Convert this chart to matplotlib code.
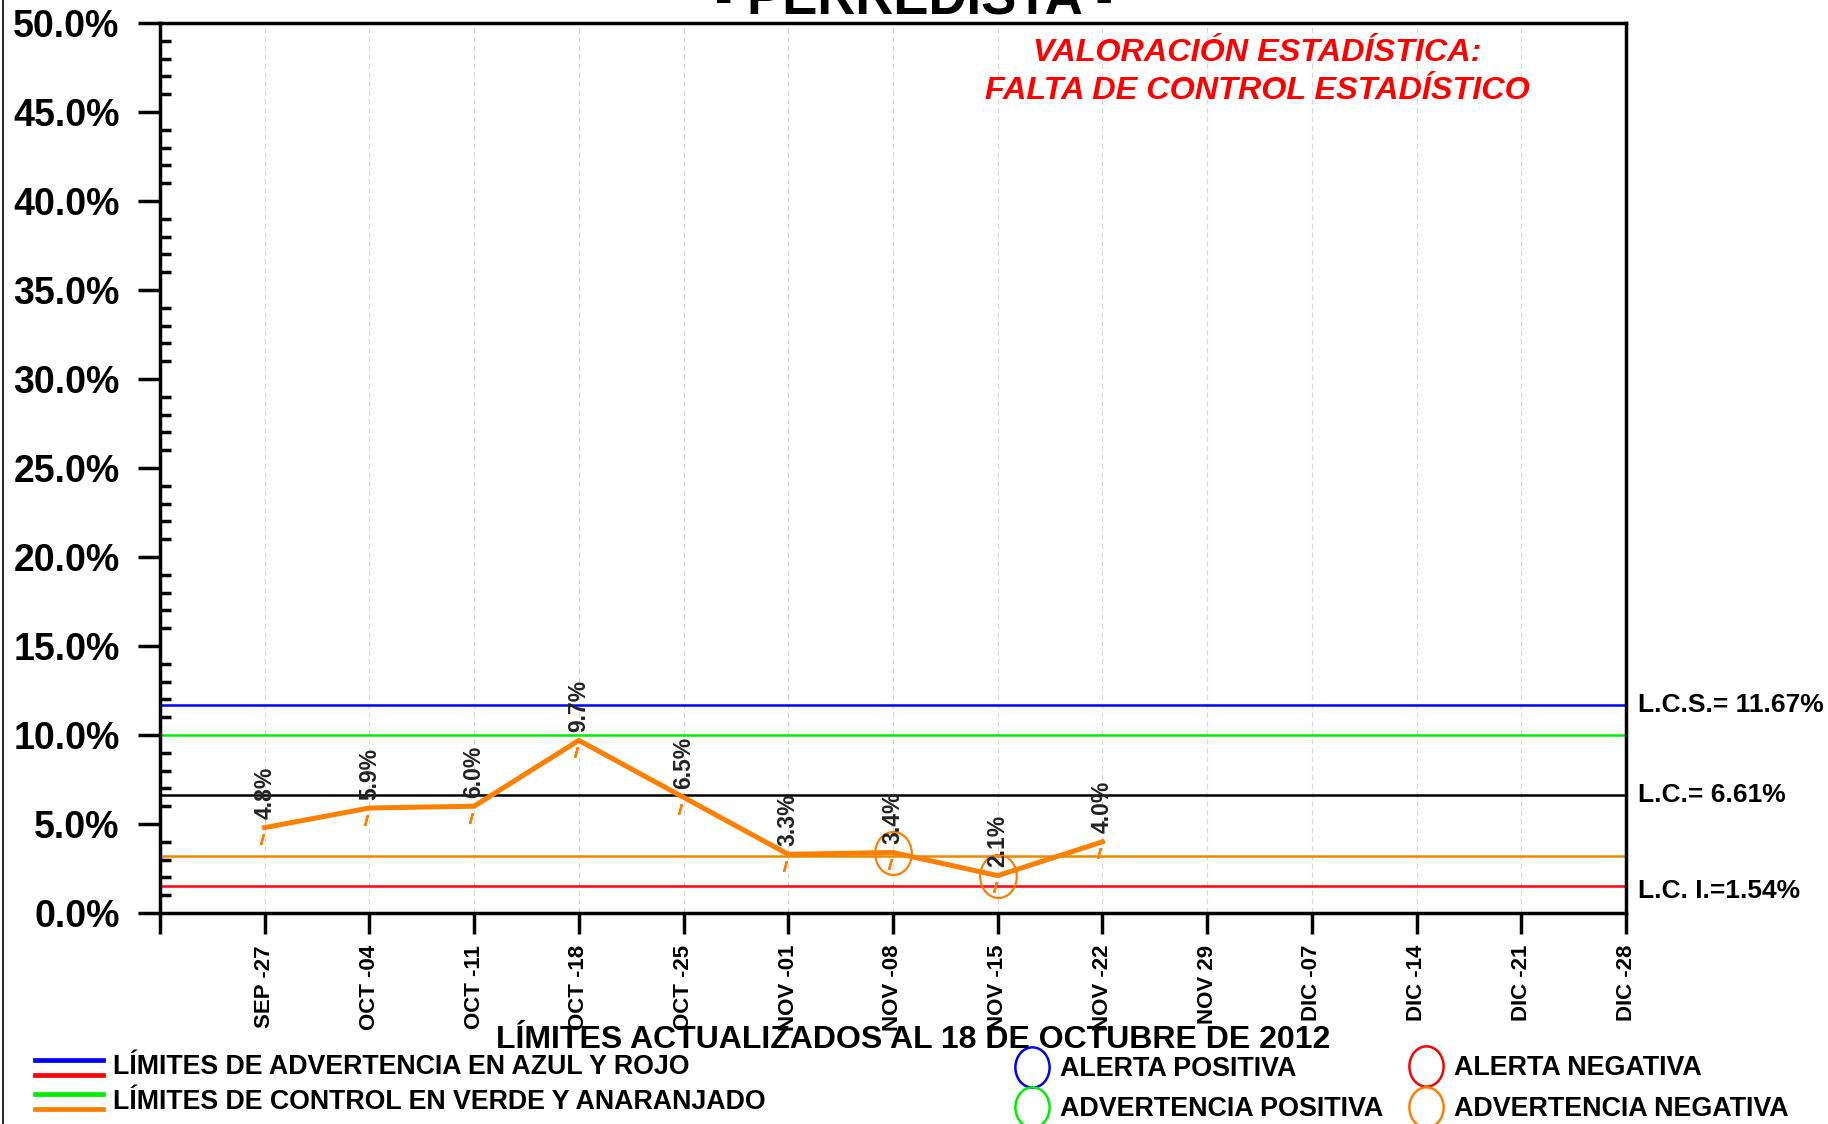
import matplotlib.pyplot as plt
import matplotlib.ticker as ticker
from matplotlib.lines import Line2D
from matplotlib.path import Path
from matplotlib.transforms import Affine2D
import matplotlib.transforms as mtransforms

# datos
fechas = ['SEP -27', 'OCT -04', 'OCT -11', 'OCT -18', 'OCT -25', 'NOV -01', 'NOV -08',
          'NOV -15', 'NOV -22', 'NOV 29', 'DIC -07', 'DIC -14', 'DIC -21', 'DIC -28']
valores = [4.8, 5.9, 6.0, 9.7, 6.5, 3.3, 3.4, 2.1, 4.0]
advertencia_neg = [False, False, False, False, False, False, True, True, False]
lcs = 11.67
lc = 6.61
lci = 1.54
lim_verde = 9.98
lim_naranja = 3.23

NARROW = ['Liberation Sans Narrow', 'Liberation Sans', 'DejaVu Sans']
ARIAL = ['Liberation Sans', 'DejaVu Sans']
NARANJA = '#ff8000'

elipse = Path.unit_circle().transformed(Affine2D().scale(0.85, 1.0))

fig = plt.figure(figsize=(18.28, 11.24), dpi=100)
ax = fig.add_axes([0.0875, 0.1877, 0.802, 0.7918])

xs = list(range(1, len(valores) + 1))

# limites
ax.axhline(lcs, color='#0000ff', lw=1.8, zorder=2)
ax.axhline(lim_verde, color='#00ee00', lw=1.8, zorder=2)
ax.axhline(lc, color='black', lw=1.8, zorder=2)
ax.axhline(lim_naranja, color='#e68a00', lw=1.8, zorder=2)
ax.axhline(lci, color='#ff0010', lw=1.8, zorder=2)

# serie
ax.plot(xs, valores, color=NARANJA, lw=3.6, zorder=4)
ax.plot([x - 0.03 for x in xs], [v - 0.65 for v in valores], ls='none',
        marker=(2, 2, -15), ms=8, mec=NARANJA, mew=1.6, zorder=4)
for x, v, a in zip(xs, valores, advertencia_neg):
    if a:
        ax.plot(x, v, marker=elipse, ms=31, mfc='none', mec=NARANJA, mew=1.6, zorder=5)
    ax.annotate(f'{v:.1f}%', (x, v), xytext=(0, 6), textcoords='offset points',
                rotation=90, ha='center', va='bottom', fontsize=16.5, fontweight='bold',
                family=ARIAL, color='#222222', zorder=6)

ax.set_xlim(0, len(fechas))
ax.set_ylim(0, 50)
ax.set_xticks(range(0, len(fechas) + 1))
ax.set_xticklabels([''] + fechas, rotation=90, fontsize=16, fontweight='bold', family=ARIAL)
ax.yaxis.set_major_locator(ticker.MultipleLocator(5))
ax.yaxis.set_minor_locator(ticker.MultipleLocator(1))
ax.yaxis.set_major_formatter(ticker.FuncFormatter(lambda v, p: f'{v:.1f}%'))
for lab in ax.get_yticklabels():
    lab.set_fontfamily(NARROW)
    lab.set_fontweight('bold')
    lab.set_fontsize(27)
ax.tick_params(axis='y', which='major', direction='out', length=16, width=2.5, pad=13)
ax.tick_params(axis='y', which='minor', direction='in', length=8, width=2.5)
ax.tick_params(axis='x', which='major', direction='out', length=15, width=2.5, pad=8)
for s in ax.spines.values():
    s.set_linewidth(2.5)
ax.grid(axis='x', color='#d9d9d9', lw=0.8, ls=(0, (5, 3)), zorder=1)

# etiquetas a la derecha
tr = mtransforms.blended_transform_factory(ax.transAxes, ax.transData)
ax.text(1.008, lcs, 'L.C.S.= 11.67%', transform=tr, va='center', ha='left',
        fontsize=19, fontweight='bold', family=ARIAL)
ax.text(1.008, lc, 'L.C.= 6.61%', transform=tr, va='center', ha='left',
        fontsize=19, fontweight='bold', family=ARIAL)
ax.text(1.008, lci - 0.3, 'L.C. I.=1.54%', transform=tr, va='center', ha='left',
        fontsize=19, fontweight='bold', family=ARIAL)

# textos
fig.text(0.5, 0.9875, '- PERREDISTA -', ha='center', va='baseline', fontsize=38,
         fontweight='bold', family=ARIAL)
fig.text(0.688, 0.953, 'VALORACIÓN ESTADÍSTICA:', ha='center', va='center', color='#ff0000',
         fontsize=23.3, fontweight='bold', style='italic', family=NARROW)
fig.text(0.688, 0.919, 'FALTA DE CONTROL ESTADÍSTICO', ha='center', va='center', color='#ff0000',
         fontsize=23.3, fontweight='bold', style='italic', family=NARROW)
fig.text(0.4995, 0.0747, 'LÍMITES ACTUALIZADOS AL 18 DE OCTUBRE DE 2012', ha='center', va='center',
         fontsize=23, fontweight='bold', family=NARROW)

# leyenda de lineas
for y, c in [(0.0569, '#0000ff'), (0.0436, '#ff0000'), (0.0267, '#00ee00'), (0.0133, NARANJA)]:
    fig.add_artist(Line2D([0.019, 0.0563], [y, y], color=c, lw=3.4, transform=fig.transFigure))
fig.text(0.0618, 0.0507, 'LÍMITES DE ADVERTENCIA EN AZUL Y ROJO', va='center', ha='left',
         fontsize=19.3, fontweight='bold', family=NARROW)
fig.text(0.0618, 0.0196, 'LÍMITES DE CONTROL EN VERDE Y ANARANJADO', va='center', ha='left',
         fontsize=19.3, fontweight='bold', family=NARROW)

# leyenda de circulos
circulos = [(0.5645, 0.0507, '#0000ff', 'ALERTA POSITIVA'),
            (0.5645, 0.0151, '#00ee00', 'ADVERTENCIA POSITIVA'),
            (0.780, 0.0516, '#ff0000', 'ALERTA NEGATIVA'),
            (0.780, 0.0151, NARANJA, 'ADVERTENCIA NEGATIVA')]
for x, y, c, t in circulos:
    fig.add_artist(Line2D([x], [y], marker=elipse, ms=29, mfc='none', mec=c, mew=1.8,
                          transform=fig.transFigure))
    fig.text(x + 0.0155, y - 0.002, t, va='center', ha='left', fontsize=19.4,
             fontweight='bold', family=NARROW)

fig.add_artist(Line2D([0.0015, 0.0015], [0, 1], color='black', lw=1.2, transform=fig.transFigure))

fig.savefig('out.png', dpi=100)
